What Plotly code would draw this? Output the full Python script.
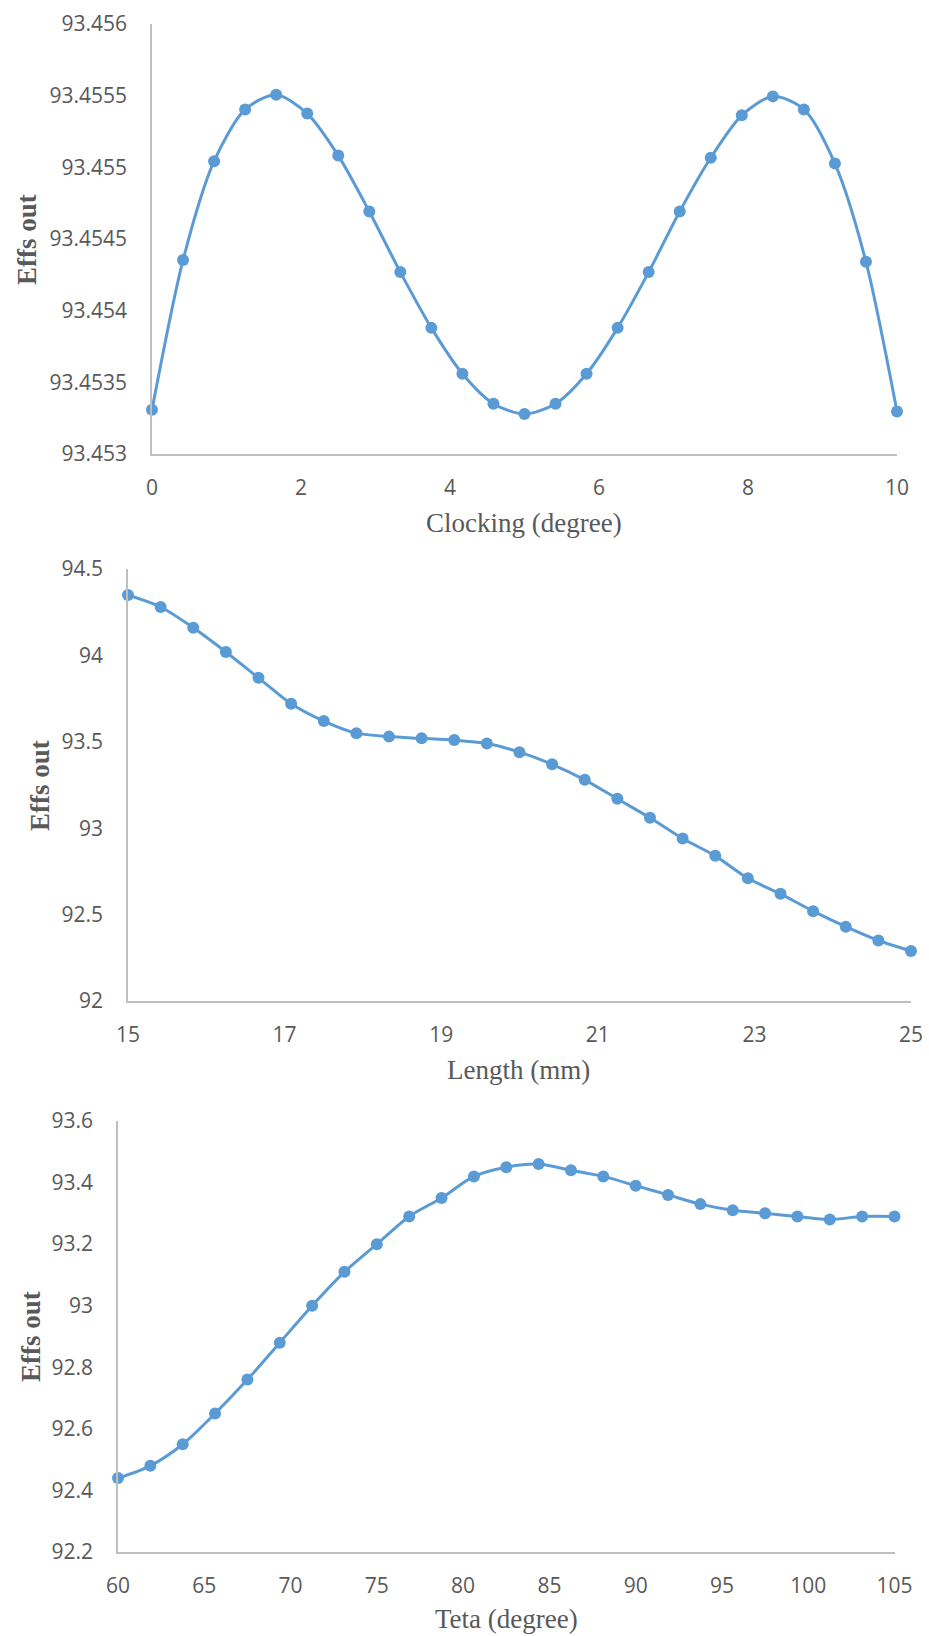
import plotly.graph_objects as go

# ---------------- data ----------------
clocking_x = [i * 10 / 24 for i in range(25)]
clocking_y = [93.453308, 93.454353, 93.455043, 93.455404, 93.455507, 93.455375,
              93.455082, 93.454692, 93.454269, 93.453880, 93.453560, 93.453351,
              93.453279, 93.453351, 93.453560, 93.453880, 93.454269, 93.454692,
              93.455067, 93.455363, 93.455495, 93.455404, 93.455026, 93.454341,
              93.453296]

length_x = [15 + i * 10 / 24 for i in range(25)]
length_y = [94.35, 94.28, 94.16, 94.02, 93.87, 93.72, 93.62, 93.55, 93.53, 93.52,
            93.51, 93.49, 93.44, 93.37, 93.28, 93.17, 93.06, 92.94, 92.84, 92.71,
            92.62, 92.52, 92.43, 92.35, 92.29]

teta_x = [60 + i * 45 / 24 for i in range(25)]
teta_y = [92.44, 92.48, 92.55, 92.65, 92.76, 92.88, 93.00, 93.11, 93.20, 93.29,
          93.35, 93.42, 93.45, 93.46, 93.44, 93.42, 93.39, 93.36, 93.33, 93.31,
          93.30, 93.29, 93.28, 93.29, 93.29]

clocking_yticks = [93.453, 93.4535, 93.454, 93.4545, 93.455, 93.4555, 93.456]
clocking_yticktext = ["93.453", "93.4535", "93.454", "93.4545", "93.455", "93.4555", "93.456"]
clocking_xticks = [0, 2, 4, 6, 8, 10]

length_yticks = [92, 92.5, 93, 93.5, 94, 94.5]
length_yticktext = ["92", "92.5", "93", "93.5", "94", "94.5"]
length_xticks = [15, 17, 19, 21, 23, 25]

teta_yticks = [92.2, 92.4, 92.6, 92.8, 93, 93.2, 93.4, 93.6]
teta_yticktext = ["92.2", "92.4", "92.6", "92.8", "93", "93.2", "93.4", "93.6"]
teta_xticks = [60, 65, 70, 75, 80, 85, 90, 95, 100, 105]

x_titles = ["Clocking (degree)", "Length (mm)", "Teta (degree)"]
y_title = "Effs out"

# ---------------- layout ----------------
W, H = 929, 1636
BLUE = "#5B9BD5"
TXT = "#595959"
AX = "#BFBFBF"

def px_x(v):
    return v / W

def px_y(v):
    return 1 - v / H

panels = [
    dict(x=clocking_x, y=clocking_y, xr=[0, 10], yr=[93.453, 93.456],
         xt=clocking_xticks, yt=clocking_yticks, ytt=clocking_yticktext,
         left=152, right=897, top=24, bottom=454,
         xtitle=(524, 523), ytitle=(27, 240)),
    dict(x=length_x, y=length_y, xr=[15, 25], yr=[92, 94.5],
         xt=length_xticks, yt=length_yticks, ytt=length_yticktext,
         left=128, right=911, top=569, bottom=1001,
         xtitle=(518, 1070), ytitle=(40, 786)),
    dict(x=teta_x, y=teta_y, xr=[60, 105], yr=[92.2, 93.6],
         xt=teta_xticks, yt=teta_yticks, ytt=teta_yticktext,
         left=118, right=894.5, top=1121, bottom=1552,
         xtitle=(506, 1619), ytitle=(31, 1336)),
]

fig = go.Figure()
annotations = []
layout = dict(
    width=W, height=H,
    margin=dict(l=0, r=0, t=0, b=0, pad=0, autoexpand=False),
    paper_bgcolor="white", plot_bgcolor="white",
    showlegend=False,
)

tickfont = dict(family="Open Sans", size=21, color=TXT)

for i, p in enumerate(panels):
    n = "" if i == 0 else str(i + 1)
    fig.add_trace(go.Scatter(
        x=p["x"], y=p["y"], mode="lines+markers",
        line=dict(color=BLUE, width=3, shape="spline", smoothing=0.8),
        marker=dict(color=BLUE, size=12),
        xaxis="x" + n, yaxis="y" + n, cliponaxis=False,
        hoverinfo="x+y",
    ))
    layout["xaxis" + n] = dict(
        domain=[px_x(p["left"]), px_x(p["right"])],
        range=p["xr"], anchor="y" + n, automargin=False,
        tickvals=p["xt"], showgrid=False, zeroline=False,
        showline=True, linecolor=AX, linewidth=1.5,
        ticks="", tickfont=tickfont, ticklabelstandoff=14,
    )
    layout["yaxis" + n] = dict(
        domain=[px_y(p["bottom"]), px_y(p["top"])],
        range=p["yr"], anchor="x" + n, automargin=False,
        tickvals=p["yt"], ticktext=p["ytt"], showgrid=False, zeroline=False,
        showline=True, linecolor=AX, linewidth=1.5,
        ticks="", tickfont=tickfont, ticklabelstandoff=19,
    )
    annotations.append(dict(
        text=x_titles[i], xref="paper", yref="paper",
        x=px_x(p["xtitle"][0]), y=px_y(p["xtitle"][1]),
        xanchor="center", yanchor="middle", showarrow=False,
        font=dict(family="Liberation Serif", size=27, color=TXT),
    ))
    annotations.append(dict(
        text="<b>" + y_title + "</b>", xref="paper", yref="paper",
        x=px_x(p["ytitle"][0]), y=px_y(p["ytitle"][1]),
        xanchor="center", yanchor="middle", showarrow=False, textangle=-90,
        font=dict(family="Liberation Serif", size=27, color=TXT),
    ))

layout["annotations"] = annotations
fig.update_layout(**layout)
fig.write_html(
    "out.html",
    config={"displayModeBar": False},
    post_script="document.body.style.margin='0';document.body.style.overflow='hidden';",
)
